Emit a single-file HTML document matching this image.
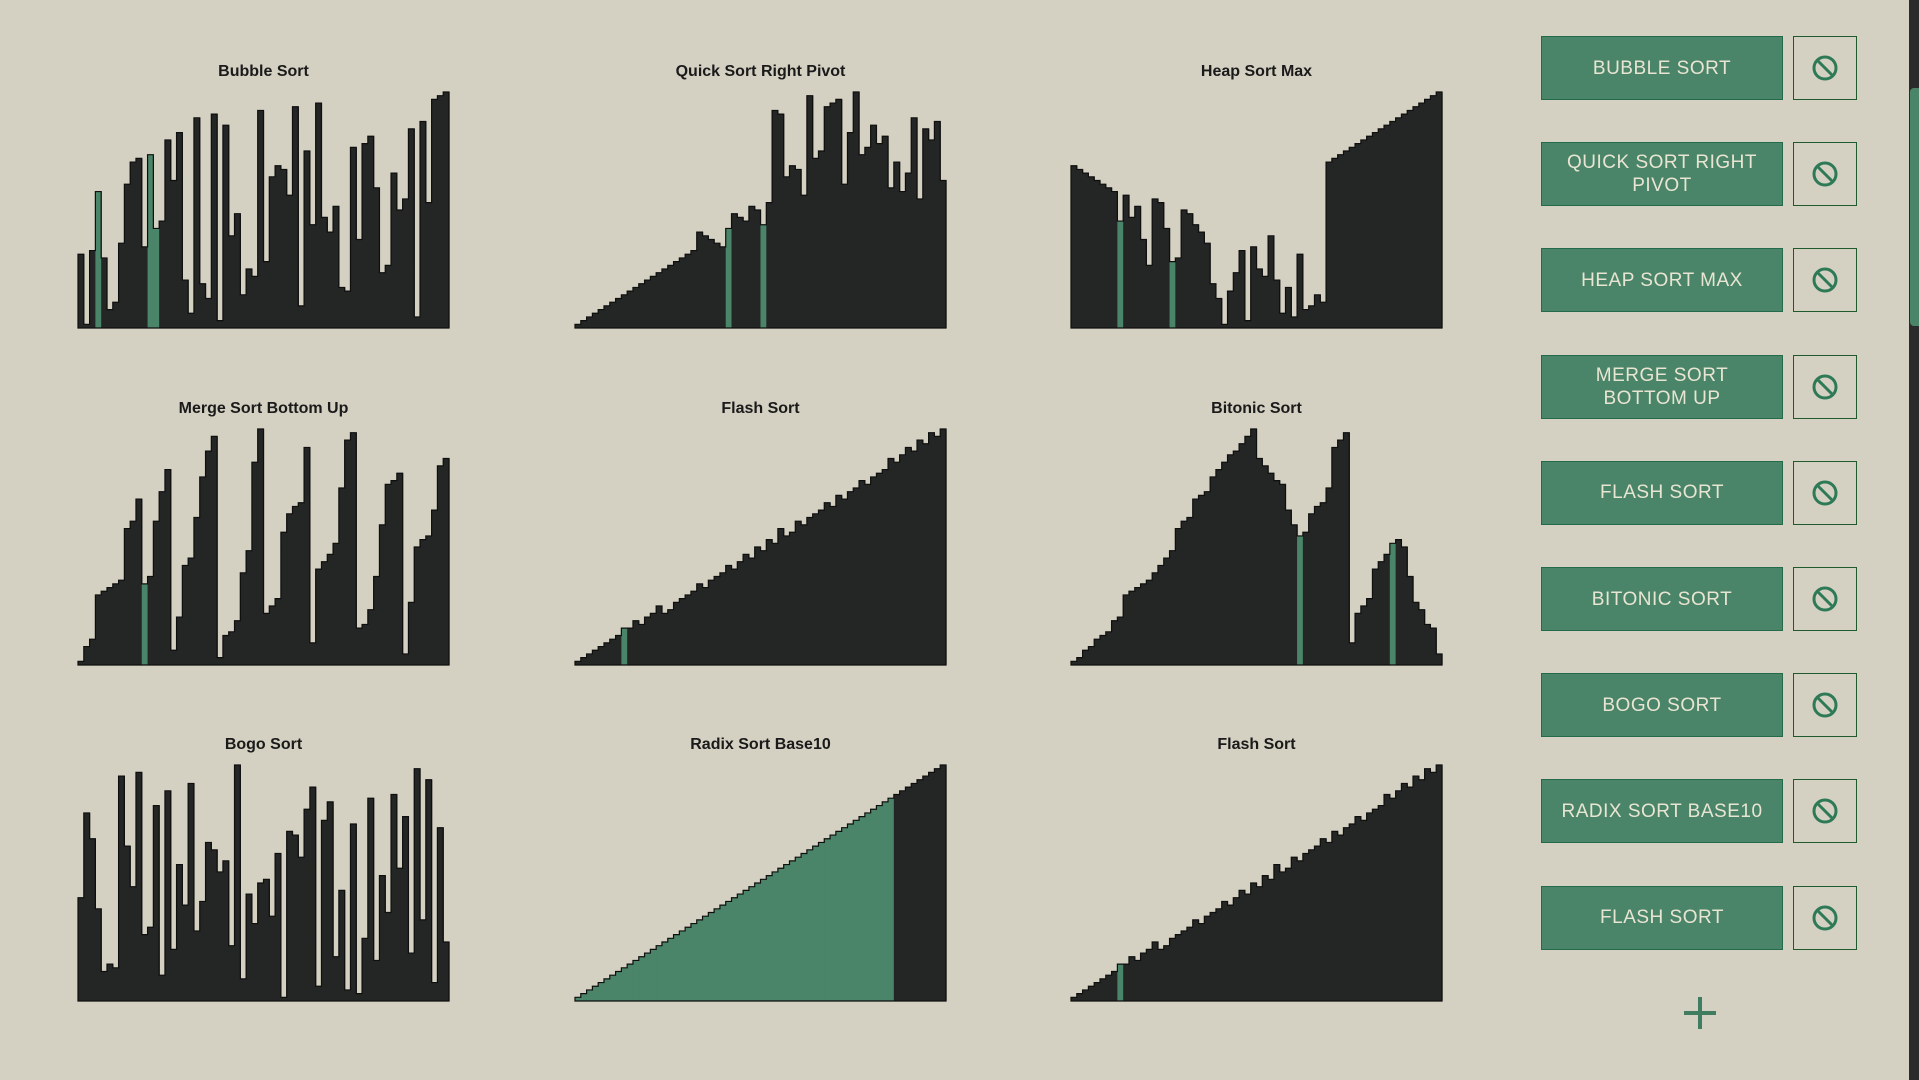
<!DOCTYPE html>
<html><head><meta charset="utf-8"><style>
html,body{margin:0;padding:0;}
body{width:1919px;height:1080px;background:#d4d0c2;position:relative;overflow:hidden;font-family:"Liberation Sans",sans-serif;}
.title{position:absolute;width:371px;text-align:center;font-weight:bold;font-size:16px;color:#1a1a1a;}
svg.chart{position:absolute;overflow:visible;}
.btn{position:absolute;left:1541px;width:242px;height:64px;background:#4a8569;border:1px solid #236b4b;box-sizing:border-box;color:#e9e5d3;font-size:19px;letter-spacing:0.5px;display:flex;align-items:center;justify-content:center;text-align:center;line-height:23px;cursor:pointer;}
.blk{position:absolute;left:1793px;width:64px;height:64px;border:1px solid #1e5a2c;box-sizing:border-box;display:flex;align-items:center;justify-content:center;cursor:pointer;}
</style></head><body>
<div id="charts"></div>
<div id="side"></div>
<div style="position:absolute;left:1684px;top:997px;width:32px;height:32px;cursor:pointer;">
<div style="position:absolute;left:14px;top:0;width:4px;height:32px;background:#3f7c60"></div>
<div style="position:absolute;left:0;top:14px;width:32px;height:4px;background:#3f7c60"></div></div>
<div style="position:absolute;left:1909px;top:0;width:10px;height:1080px;background:#2a2b2a"></div>
<div style="position:absolute;left:1910px;top:88px;width:9px;height:238px;background:#4a8569;border-radius:4px 0 0 4px"></div>
<script>
const titles = ["Bubble Sort","Quick Sort Right Pivot","Heap Sort Max","Merge Sort Bottom Up","Flash Sort","Bitonic Sort","Bogo Sort","Radix Sort Base10","Flash Sort"];
const bubbleVals = [20,1,21,37,19,5,7,23,39,45,46,22,47,27,29,51,40,53,13,4,57,12,8,58,2,55,25,31,9,16,14,59,18,41,44,43,36,60,6,48,28,61,30,26,33,11,10,49,24,50,52,38,15,17,42,32,35,54,3,56,34,62,63,64];
const bubbleHi = [3,12,13];
const quickVals = [1,2,3,4,5,6,7,8,9,10,11,12,13,14,15,16,17,18,19,20,21,26,25,24,23,22,27,31,30,29,33,32,28,34,59,58,41,44,43,36,63,46,48,60,61,62,39,53,64,47,49,55,50,52,38,45,37,42,57,35,54,51,56,40];
const quickHi = [26,32];
const heapVals = [44,43,42,41,40,39,38,37,29,36,30,33,24,17,35,34,27,18,19,32,31,28,26,23,12,8,1,10,15,21,2,22,16,14,25,13,4,11,3,20,5,6,9,7,45,46,47,48,49,50,51,52,53,54,55,56,57,58,59,60,61,62,63,64];
const heapHi = [8,17];
const mergeVals = [1,5,7,19,20,21,22,23,37,39,45,22,24,39,47,53,4,13,27,29,40,51,58,62,2,8,9,12,25,31,55,64,14,16,18,36,41,43,44,59,6,26,28,30,33,48,61,63,10,11,15,24,38,49,50,52,3,17,32,34,35,42,54,56];
const mergeHi = [11];
const flashVals = [1,2,3,4,5,6,7,8,10,10,12,11,13,14,16,14,15,17,18,19,20,22,21,23,24,25,27,26,28,30,29,32,31,34,33,37,35,36,39,38,40,41,42,44,43,46,45,47,48,50,49,51,52,53,56,55,57,59,58,61,60,63,62,64];
const flashHi = [8];
const bitonicVals = [1,2,4,5,7,8,9,12,13,19,20,21,22,23,25,27,29,31,37,39,40,45,46,47,51,53,55,57,58,60,62,64,56,54,52,50,49,42,38,35,36,41,43,44,48,59,61,63,6,14,16,18,26,28,30,33,34,32,24,17,15,11,10,3];
const bitonicHi = [39,55];
const bogoVals = [28,51,44,25,8,10,9,61,42,31,62,18,20,53,7,57,14,37,26,59,19,27,43,41,35,38,15,64,6,29,21,32,33,23,40,1,46,45,39,52,58,4,49,54,12,30,3,48,2,17,55,11,34,24,56,36,50,13,63,22,60,5,47,16];
const bogoHi = [];
const radixVals = [1,2,3,4,5,6,7,8,9,10,11,12,13,14,15,16,17,18,19,20,21,22,23,24,25,26,27,28,29,30,31,32,33,34,35,36,37,38,39,40,41,42,43,44,45,46,47,48,49,50,51,52,53,54,55,56,57,58,59,60,61,62,63,64];
const radixGreenCount = [55];
const flash2Vals = [1,2,3,4,5,6,7,8,10,10,12,11,13,14,16,14,15,17,18,19,20,22,21,23,24,25,27,26,28,30,29,32,31,34,33,37,35,36,39,38,40,41,42,44,43,46,45,47,48,50,49,51,52,53,56,55,57,59,58,61,60,63,62,64];
const flash2Hi = [8];
const radixHi = radixVals.map((v,i)=>i).filter(i=>i<radixGreenCount[0]);
const datasets = [[bubbleVals,bubbleHi],[quickVals,quickHi],[heapVals,heapHi],[mergeVals,mergeHi],[flashVals,flashHi],[bitonicVals,bitonicHi],[bogoVals,bogoHi],[radixVals,radixHi],[flash2Vals,flash2Hi]];
const colX=[78,575,1071], rowBottom=[328,665,1001], titleY=[63,400,736];
const W=371,H=236,MAXV=64;
const NS="http://www.w3.org/2000/svg";
const host=document.getElementById('charts');
datasets.forEach((d,k)=>{
  const c=k%3,r=Math.floor(k/3);
  const t=document.createElement('div');t.className='title';
  
  
  t.style.left=colX[c]+'px';t.style.top=titleY[r]+'px';t.textContent=titles[k];host.appendChild(t);
  const svg=document.createElementNS(NS,'svg');svg.setAttribute('class','chart');
  
  
  svg.setAttribute('width',W);svg.setAttribute('height',H);
  svg.style.left=colX[c]+'px';svg.style.top=(rowBottom[r]-H)+'px';
  const vals=d[0],hi=d[1],n=vals.length,bw=W/n;
  const xs=i=>i*bw, ys=v=>H-v/MAXV*H;
  vals.forEach((v,i)=>{
    const g=hi.includes(i);
    const rc=document.createElementNS(NS,'rect');
    
    
    rc.setAttribute('x',xs(i));rc.setAttribute('y',ys(v));
    rc.setAttribute('width',bw+0.6);rc.setAttribute('height',H-ys(v));
    rc.setAttribute('fill',g?'#4a8569':'#242625');
    svg.appendChild(rc);
  });
  let p='M0,'+H;
  vals.forEach((v,i)=>{p+=' L'+xs(i)+','+ys(v)+' L'+xs(i+1)+','+ys(v);});
  p+=' L'+W+','+H+' Z';
  const ol=document.createElementNS(NS,'path');
  
  
  ol.setAttribute('d',p);ol.setAttribute('fill','none');ol.setAttribute('stroke','#0e0f0e');ol.setAttribute('stroke-width','1.2');
  svg.appendChild(ol);
  host.appendChild(svg);
});
const btnLabels=["BUBBLE SORT","QUICK SORT RIGHT<br>PIVOT","HEAP SORT MAX","MERGE SORT<br>BOTTOM UP","FLASH SORT","BITONIC SORT","BOGO SORT","RADIX SORT BASE10","FLASH SORT"];
const side=document.getElementById('side');
btnLabels.forEach((l,i)=>{
  const cy=68+i*106.2;
  const b=document.createElement('div');b.className='btn';
  
  
  b.style.top=(cy-32)+'px';b.innerHTML=l;side.appendChild(b);
  const x=document.createElement('div');x.className='blk';
  
  
  x.style.top=(cy-32)+'px';
  x.innerHTML='<svg width="28" height="28" viewBox="0 0 28 28"><circle cx="14" cy="14" r="11" fill="none" stroke="#2e7a57" stroke-width="3"/><line x1="6.5" y1="6.5" x2="21.5" y2="21.5" stroke="#2e7a57" stroke-width="3"/></svg>';
  side.appendChild(x);
});
</script>
</body></html>
